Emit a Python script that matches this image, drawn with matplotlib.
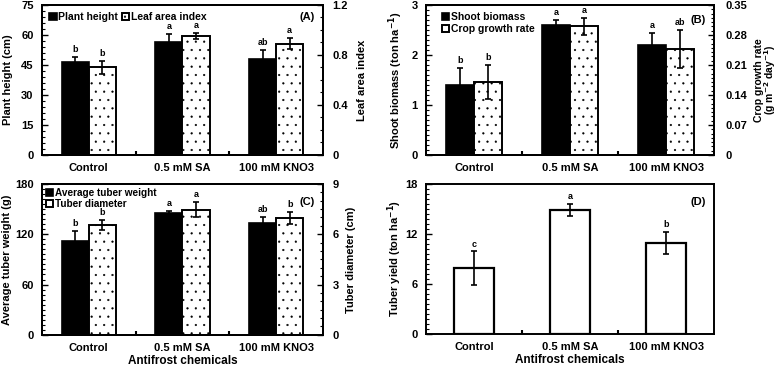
import matplotlib
matplotlib.use("Agg")
import matplotlib.pyplot as plt
from matplotlib.ticker import AutoMinorLocator, MultipleLocator

plt.rcParams['font.family'] = ['Liberation Sans', 'DejaVu Sans']
plt.rcParams['font.weight'] = 'bold'
plt.rcParams['axes.labelweight'] = 'bold'
plt.rcParams['hatch.linewidth'] = 0.35

# treatments
categories = ["Control", "0.5 mM SA", "100 mM KNO3"]

# (A) plant height (cm) and leaf area index
plant_height = [46.3, 56.3, 48.0]
plant_height_err = [2.6, 4.0, 4.5]
plant_height_let = ["b", "a", "ab"]
lai = [0.70, 0.95, 0.89]
lai_err = [0.05, 0.025, 0.045]
lai_let = ["b", "a", "a"]

# (B) shoot biomass (ton/ha) and crop growth rate
shoot_biomass = [1.40, 2.60, 2.20]
shoot_biomass_err = [0.33, 0.09, 0.23]
shoot_biomass_let = ["b", "a", "a"]
cgr = [0.170, 0.300, 0.247]
cgr_err = [0.039, 0.020, 0.045]
cgr_let = ["b", "a", "ab"]

# (C) average tuber weight (g) and tuber diameter (cm)
tuber_weight = [112.0, 145.0, 133.0]
tuber_weight_err = [12.0, 3.0, 7.0]
tuber_weight_let = ["b", "a", "ab"]
tuber_diam = [6.55, 7.45, 6.95]
tuber_diam_err = [0.3, 0.45, 0.35]
tuber_diam_let = ["b", "a", "b"]

# (D) tuber yield (ton/ha)
tuber_yield = [7.9, 14.9, 10.9]
tuber_yield_err = [2.0, 0.75, 1.35]
tuber_yield_let = ["c", "a", "b"]

x = list(range(len(categories)))
w = 0.29
lbl_fs = 8
tick_fs = 8


def style_axis(ax, ymax, ystep, nminor, pad=6):
    ax.set_xlim(-0.5, 2.5)
    ax.set_ylim(0, ymax)
    ax.yaxis.set_major_locator(MultipleLocator(ystep))
    ax.yaxis.set_minor_locator(AutoMinorLocator(nminor))
    ax.tick_params(axis='y', which='major', direction='in', length=4, width=1,
                   labelsize=tick_fs, pad=pad)
    ax.tick_params(axis='y', which='minor', direction='in', length=2, width=0.8)
    for s in ax.spines.values():
        s.set_linewidth(1.4)


def style_x(ax):
    ax.set_xticks(x)
    ax.set_xticklabels(categories, fontsize=tick_fs, fontweight='bold')
    ax.set_xticks([0.5, 1.5], minor=True)
    ax.tick_params(axis='x', which='major', length=0, pad=5.5)
    ax.tick_params(axis='x', which='minor', direction='in', length=3, width=1.5)


def set_ylab(ax, text, xpos, fs=lbl_fs, **kw):
    ax.set_ylabel(text, fontsize=fs, rotation=90, **kw)
    ax.yaxis.set_label_coords(xpos, 0.5)
    ax.yaxis.label.set_horizontalalignment('center')
    ax.yaxis.label.set_verticalalignment('center')
    ax.yaxis.label.set_rotation_mode('anchor')


def draw_pair(ax, ax2, v1, e1, l1, v2, e2, l2, ymax1, ymax2):
    xs1 = [i - w / 2 for i in x]
    xs2 = [i + w / 2 for i in x]
    b1 = ax.bar(xs1, v1, w, color='black', edgecolor='black', linewidth=1.2)
    ax.errorbar(xs1, v1, yerr=e1, fmt='none', ecolor='black', elinewidth=1.2, capsize=2, capthick=1.2)
    b2 = ax2.bar(xs2, v2, w, color='white', edgecolor='black', linewidth=1.4, hatch='..')
    ax2.errorbar(xs2, v2, yerr=e2, fmt='none', ecolor='black', elinewidth=1.2, capsize=2, capthick=1.2)
    for xi, v, e, t in zip(xs1, v1, e1, l1):
        ax.text(xi, v + e + ymax1 * 0.02, t, ha='center', va='bottom', fontsize=6.5, fontweight='bold')
    for xi, v, e, t in zip(xs2, v2, e2, l2):
        ax2.text(xi, v + e + ymax2 * 0.02, t, ha='center', va='bottom', fontsize=6.5, fontweight='bold')
    return b1, b2


fig = plt.figure(figsize=(7.77, 3.69), dpi=100)

# ---- (A)
axA = fig.add_axes([0.054, 0.58, 0.3617, 0.4065])
axA2 = axA.twinx()
bA1, bA2 = draw_pair(axA, axA2, plant_height, plant_height_err, plant_height_let,
                     lai, lai_err, lai_let, 75, 1.2)
style_axis(axA, 75, 15, 5)
style_axis(axA2, 1.2, 0.4, 4, pad=6.5)
axA2.set_yticks([0, 0.4, 0.8, 1.2])
axA2.set_yticklabels(["0", "0.4", "0.8", "1.2"])
style_x(axA)
set_ylab(axA, "Plant height (cm)", -0.121)
set_ylab(axA2, "Leaf area index", 1.139)
axA.legend([bA1, bA2], ["Plant height", "Leaf area index"], loc='upper left', ncol=2,
           frameon=False, fontsize=7.5, handlelength=0.7, handleheight=0.7,
           handletextpad=0.15, columnspacing=0.4, borderaxespad=0.3,
           bbox_to_anchor=(0.0, 1.0))
axA.text(0.97, 0.92, "(A)", transform=axA.transAxes, ha='right', va='center', fontsize=8, fontweight='bold')

# ---- (B)
axB = fig.add_axes([0.5483, 0.58, 0.3707, 0.4065])
axB2 = axB.twinx()
bB1, bB2 = draw_pair(axB, axB2, shoot_biomass, shoot_biomass_err, shoot_biomass_let,
                     cgr, cgr_err, cgr_let, 3, 0.35)
style_axis(axB, 3, 1, 10)
style_axis(axB2, 0.35, 0.07, 7, pad=8)
axB2.set_yticks([0, 0.07, 0.14, 0.21, 0.28, 0.35])
axB2.set_yticklabels(["0", "0.07", "0.14", "0.21", "0.28", "0.35"])
style_x(axB)
set_ylab(axB, "Shoot biomass (ton ha$^{\\mathbf{-1}}$)", -0.104)
set_ylab(axB2, "Crop growth rate\n(g m$^{\\mathbf{-2}}$ day$^{\\mathbf{-1}}$)", 1.18,
         fs=7.5, linespacing=0.9)
axB.legend([bB1, bB2], ["Shoot biomass", "Crop growth rate"], loc='upper left', ncol=1,
           frameon=False, fontsize=7.5, handlelength=0.7, handleheight=0.7,
           handletextpad=0.15, labelspacing=0.2, borderaxespad=0.3,
           bbox_to_anchor=(0.03, 1.0))
axB.text(0.97, 0.90, "(B)", transform=axB.transAxes, ha='right', va='center', fontsize=8, fontweight='bold')

# ---- (C)
axC = fig.add_axes([0.054, 0.0925, 0.3617, 0.409])
axC2 = axC.twinx()
bC1, bC2 = draw_pair(axC, axC2, tuber_weight, tuber_weight_err, tuber_weight_let,
                     tuber_diam, tuber_diam_err, tuber_diam_let, 180, 9)
style_axis(axC, 180, 60, 10)
style_axis(axC2, 9, 3, 6, pad=7)
style_x(axC)
set_ylab(axC, "Average tuber weight (g)", -0.1246)
set_ylab(axC2, "Tuber diameter (cm)", 1.10)
axC.set_xlabel("Antifrost chemicals", fontsize=8.5, labelpad=2)
axC.legend([bC1, bC2], ["Average tuber weight", "Tuber diameter"], loc='upper left', ncol=1,
           frameon=False, fontsize=7.2, handlelength=0.7, handleheight=0.7,
           handletextpad=0.15, labelspacing=0.1, borderaxespad=0.05,
           bbox_to_anchor=(0.0, 1.0))
axC.text(0.97, 0.88, "(C)", transform=axC.transAxes, ha='right', va='center', fontsize=8, fontweight='bold')

# ---- (D)
axD = fig.add_axes([0.5483, 0.0949, 0.3707, 0.4065])
wd = 0.41
axD.bar(x, tuber_yield, wd, color='white', edgecolor='black', linewidth=1.6)
axD.errorbar(x, tuber_yield, yerr=tuber_yield_err, fmt='none', ecolor='black',
             elinewidth=1.2, capsize=2, capthick=1.2)
for xi, v, e, t in zip(x, tuber_yield, tuber_yield_err, tuber_yield_let):
    axD.text(xi, v + e + 0.35, t, ha='center', va='bottom', fontsize=6.5, fontweight='bold')
style_axis(axD, 18, 6, 10)
style_x(axD)
set_ylab(axD, "Tuber yield (ton ha$^{\\mathbf{-1}}$)", -0.11)
axD.set_xlabel("Antifrost chemicals", fontsize=8.5, labelpad=2)
axD.text(0.97, 0.88, "(D)", transform=axD.transAxes, ha='right', va='center', fontsize=8, fontweight='bold')

fig.savefig("out.png", dpi=100)
